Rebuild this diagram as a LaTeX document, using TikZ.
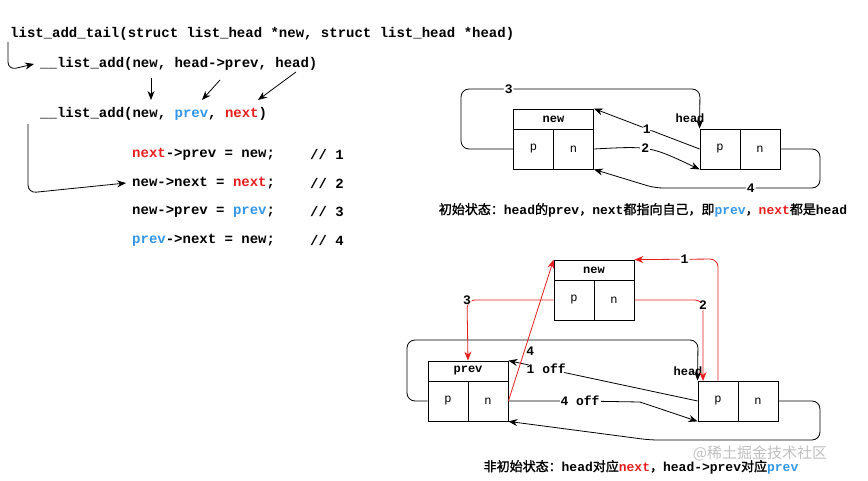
\documentclass[tikz,border=0pt]{standalone}
\usepackage{fontspec}
\setmainfont{Liberation Mono}
\newfontfamily\cjk{Noto Sans CJK SC}[AutoFakeBold=1.5]
\usetikzlibrary{positioning,arrows.meta}
\definecolor{nxtred}{RGB}{232,30,30}
\definecolor{prvblue}{RGB}{50,150,232}
\newcommand{\nx}{\textcolor{nxtred}{next}}
\newcommand{\pv}{\textcolor{prvblue}{prev}}
\tikzstyle{code}=[anchor=west,inner sep=0pt,font=\fontsize{14}{16}\selectfont\bfseries]
\tikzstyle{capt}=[anchor=center,inner sep=0pt,font=\fontsize{13}{15}\selectfont\bfseries]
\tikzstyle{hdr}=[draw,thick,minimum width=80pt,minimum height=20pt,inner sep=0pt,font=\fontsize{12}{14}\selectfont\bfseries]
\tikzstyle{cell}=[draw,thick,minimum width=40pt,minimum height=40pt,inner sep=0pt,font=\fontsize{12}{14}\selectfont]
\tikzstyle{lbl}=[fill=white,text=black,inner sep=1pt,font=\fontsize{13}{15}\selectfont\bfseries]
\tikzstyle{link}=[-{Stealth[length=9pt,width=7pt]}, line width=0.8pt, rounded corners=8pt]
\tikzstyle{redlink}=[link, nxtred]

\begin{document}
\begin{tikzpicture}[x=1pt,y=-1pt]
    \useasboundingbox (0,0) rectangle (868,481);
    % code on the left
    \node[code] (c1) at (10,34) {list\_add\_tail(struct list\_head *new, struct list\_head *head)};
    \node[code] (c2) at (40,64) {\_\_list\_add(new, head->prev, head)};
    \node[code] (c3) at (40,114) {\_\_list\_add(new, \pv, \nx)};
    \node[code] (s1) at (132,154) {\nx->prev = new;};
    \node[code] (s2) at (132,183) {new->next = \nx;};
    \node[code] (s3) at (132,212) {new->prev = \pv;};
    \node[code] (s4) at (132,240) {\pv->next = new;};
    \node[code] (k1) at (310,154) {// 1};
    \node[code] (k2) at (310,183) {// 2};
    \node[code] (k3) at (310,212) {// 3};
    \node[code] (k4) at (310,240) {// 4};
    \coordinate (a1) at (151,78);  \coordinate (b1) at (151,100);
    \coordinate (a2) at (220,80);  \coordinate (b2) at (202,100);
    \coordinate (a3) at (296,72);  \coordinate (b3) at (258,100);
    \draw[link] (8,42) -- (8,70) -- ([xshift=-6pt]c2.west);
    \draw[link] (a1) -- (b1);
    \draw[link] (a2) -- (b2);
    \draw[link] (a3) -- (b3);
    \draw[link] (28,124) -- (28,193) -- ([xshift=-6pt]s2.west);

    % initial state
    \node[hdr] (new1) at (553.5,119) {new};
    \node[cell] (new1p) at (533.5,149) {p};
    \node[cell] (new1n) at (573.5,149) {n};
    \node[cell] (head1p) at (720,149) {p};
    \node[cell] (head1n) at (760,149) {n};
    \node[code, anchor=center, font=\fontsize{12}{14}\selectfont\bfseries] (head1) at (690,118) {head};
    \draw[link] (new1p.west) -- (461,149) -- (461,89) -- node[lbl, pos=0.2] {3} (700,89) -- (head1p.north west);
    \draw[link] (head1p.west) -- node[lbl] {1} (new1.north east);
    \draw[link, rounded corners=0pt] (new1n.east) .. controls (650,146) .. node[lbl, pos=0.45] {2} (head1p.south west);
    \draw[link] (head1n.east) -- (820,149) -- (820,188) -- node[lbl, pos=0.42] {4} (655,188) -- (new1n.south east);
    \node[capt] (cap1) at (643,210) {{\cjk\bfseries 初始状态：}head{\cjk\bfseries 的}prev{\cjk\bfseries ，}next{\cjk\bfseries 都指向自己，即}\pv{\cjk\bfseries ，}\nx{\cjk\bfseries 都是}head};

    % non-initial state
    \node[hdr] (new2) at (594,270) {new};
    \node[cell] (new2p) at (574,300) {p};
    \node[cell] (new2n) at (614,300) {n};
    \node[hdr] (prev2) at (468,371) {prev};
    \node[cell] (prev2p) at (448,401) {p};
    \node[cell] (prev2n) at (488,401) {n};
    \node[cell] (head2p) at (718,401) {p};
    \node[cell] (head2n) at (758,401) {n};
    \node[code, anchor=center, font=\fontsize{12}{14}\selectfont\bfseries] (head2) at (688,371) {head};
    \draw[link] (prev2p.west) -- (407,401) -- (407,340) -- (698,340) -- (head2p.north west);
    \draw[link] (head2p.west) -- node[lbl, pos=0.8] {1 off} (prev2.north east);
    \draw[link, rounded corners=0pt] (prev2n.east) -- (580,401) node[lbl] {4 off} -- (640,402) -- (head2p.south west);
    \draw[link] (head2n.east) -- (820,401) -- (820,440) -- (650,440) -- (prev2n.south east);
    \draw[redlink] (head2p.north) -- (718,259) -- node[lbl, pos=0.4] {1} (new2.north east);
    \draw[redlink] (new2n.east) -- (703,300) -- node[lbl, pos=0.06] {2} (703,381);
    \draw[redlink] (new2p.west) -- (467,300) node[lbl] {3} -- (prev2.north);
    \draw[redlink] (prev2n.east) -- node[lbl, pos=0.35, fill=none, xshift=6pt] {4} (new2.north west);
    \node[anchor=center, text=gray!50, font=\fontsize{15}{17}\selectfont\cjk] (wm) at (760,453) {@稀土掘金技术社区};
    \node[capt] (cap2) at (641,467) {{\cjk\bfseries 非初始状态：}head{\cjk\bfseries 对应}\nx{\cjk\bfseries ，}head->prev{\cjk\bfseries 对应}\pv};
\end{tikzpicture}
\end{document}
